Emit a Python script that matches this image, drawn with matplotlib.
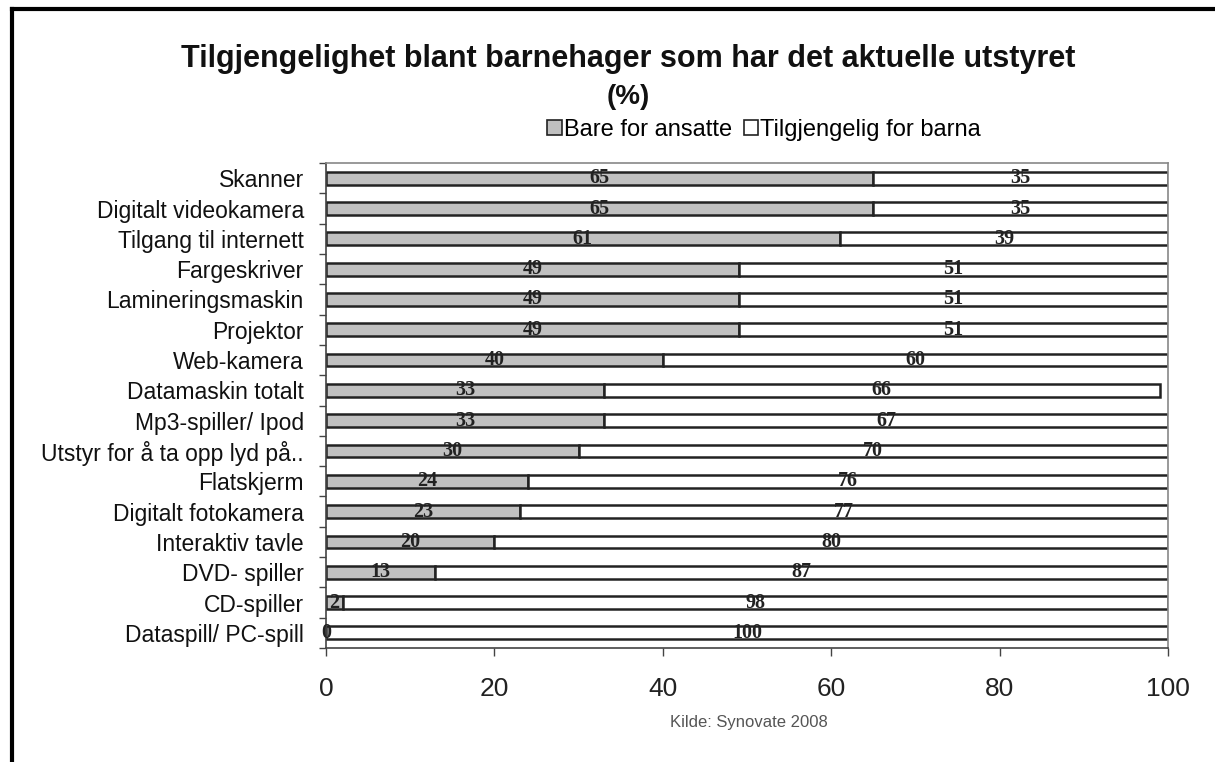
import matplotlib.pyplot as plt
from matplotlib.lines import Line2D
from matplotlib.patches import Patch
import numpy as np

# Data (top to bottom as shown)
categories = [
    "Skanner", "Digitalt videokamera", "Tilgang til internett", "Fargeskriver",
    "Lamineringsmaskin", "Projektor", "Web-kamera", "Datamaskin totalt",
    "Mp3-spiller/ Ipod", "Utstyr for å ta opp lyd på..", "Flatskjerm",
    "Digitalt fotokamera", "Interaktiv tavle", "DVD- spiller", "CD-spiller",
    "Dataspill/ PC-spill",
]
staff_only = [65, 65, 61, 49, 49, 49, 40, 33, 33, 30, 24, 23, 20, 13, 2, 0]
for_children = [35, 35, 39, 51, 51, 51, 60, 66, 67, 70, 76, 77, 80, 87, 98, 100]
series_names = ["Bare for ansatte", "Tilgjengelig for barna"]
x_ticks = [0, 20, 40, 60, 80, 100]

plt.rcParams['font.family'] = ['Liberation Sans', 'DejaVu Sans']

fig = plt.figure(figsize=(12.15, 7.62), dpi=100)
ax = fig.add_axes([0.2683, 0.1496, 0.693, 0.6364])

y = np.arange(len(categories))
edge = '#222222'
ax.barh(y, staff_only, height=0.42, color='#c0c0c0', edgecolor=edge, linewidth=1.8)
ax.barh(y, for_children, left=staff_only, height=0.42, color='white',
        edgecolor=edge, linewidth=1.8)

# value labels, centered in each segment
for i in range(len(categories)):
    a, b = staff_only[i], for_children[i]
    ax.text(a / 2, i, str(a), ha='center', va='center', fontsize=14.5,
            fontweight='bold', family='Liberation Serif', color='#222222')
    ax.text(a + b / 2, i, str(b), ha='center', va='center', fontsize=14.5,
            fontweight='bold', family='Liberation Serif', color='#222222')

ax.set_xlim(0, 100)
ax.set_ylim(len(categories) - 0.5, -0.5)
ax.set_xticks(x_ticks)
ax.set_xticklabels([str(t) for t in x_ticks], fontsize=19, color='#222222')
ax.tick_params(axis='x', length=6, width=1, color='#444444', pad=15)

ax.set_yticks(y)
ax.set_yticklabels(categories, fontsize=16.5, color='#111111')
ax.tick_params(axis='y', which='major', length=0, pad=16)
ax.set_yticks(np.arange(len(categories) + 1) - 0.5, minor=True)
ax.tick_params(axis='y', which='minor', length=5, width=1, color='#444444')

for side in ['top', 'right']:
    ax.spines[side].set_color('#888888')
    ax.spines[side].set_linewidth(1.2)
for side in ['left', 'bottom']:
    ax.spines[side].set_color('#444444')
    ax.spines[side].set_linewidth(1.2)

# title
fig.text(0.517, 0.922, "Tilgjengelighet blant barnehager som har det aktuelle utstyret",
         ha='center', va='center', fontsize=22, fontweight='bold', color='#111111')
fig.text(0.517, 0.873, "(%)", ha='center', va='center', fontsize=20,
         fontweight='bold', color='#111111')

# legend
handles = [Patch(facecolor='#c0c0c0', edgecolor=edge, linewidth=1.2),
           Patch(facecolor='white', edgecolor=edge, linewidth=1.2)]
fig.legend(handles, series_names, loc='center', bbox_to_anchor=(0.629, 0.829),
           ncol=2, frameon=False, fontsize=17, handlelength=0.6, handleheight=0.6,
           handletextpad=0.1, columnspacing=0.5)

# source
fig.text(0.616, 0.052, "Kilde: Synovate 2008", ha='center', va='center',
         fontsize=12, color='#555555')

# outer frame (left and top edges only)
fig.add_artist(Line2D([0.0095, 0.0095], [0, 0.988], transform=fig.transFigure,
                      color='black', linewidth=3))
fig.add_artist(Line2D([0.0095, 1.0], [0.988, 0.988], transform=fig.transFigure,
                      color='black', linewidth=3))

fig.savefig('out.png', dpi=100, facecolor='white')
